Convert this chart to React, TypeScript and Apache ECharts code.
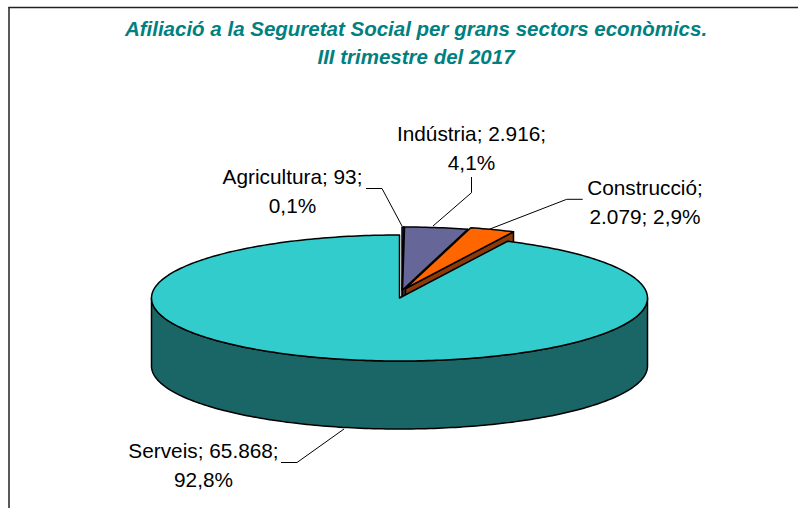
import React, { useEffect, useRef } from "react";
import * as echarts from "echarts";

const titleLines = [
  "Afiliació a la Seguretat Social per grans sectors econòmics.",
  "III trimestre del 2017",
];
const categories = ["Agricultura", "Indústria", "Construcció", "Serveis"];
const values = [93, 2916, 2079, 65868];
const labelLines = [
  ["Agricultura; 93;", "0,1%"],
  ["Indústria; 2.916;", "4,1%"],
  ["Construcció;", "2.079; 2,9%"],
  ["Serveis; 65.868;", "92,8%"],
];

// Layout
const RX = 248;
const RY = 63;
const DEPTH = 68;
const CENTERS = [
  [402, 290],
  [402.5, 290],
  [405.5, 288.5],
  [399.5, 298],
];
const TOP_COLORS = ["#33337f", "#666699", "#FF6600", "#33CCCC"];
const SIDE_COLORS = ["#1a1a40", "#33334d", "#8B3A08", "#1A6666"];
const LABEL_POS = [
  [292.5, 176],
  [471.5, 133],
  [645, 187],
  [203.5, 450],
];
const LEADERS = [
  [[366, 188.5], [382, 188.5], [402, 226]],
  [[471.5, 177], [471.5, 192.7], [433, 226]],
  [[582.7, 199.3], [566.7, 199.3], [490, 229]],
  [[281, 462.5], [297, 462.5], [344, 429]],
];

function pt(cx: number, cy: number, deg: number): number[] {
  const a = (deg * Math.PI) / 180;
  return [cx + RX * Math.sin(a), cy - RY * Math.cos(a)];
}
function arc(cx: number, cy: number, a0: number, a1: number): number[][] {
  const out: number[][] = [];
  const n = Math.max(2, Math.ceil(Math.abs(a1 - a0)));
  for (let i = 0; i <= n; i++) out.push(pt(cx, cy, a0 + ((a1 - a0) * i) / n));
  return out;
}

const total = values.reduce((s, v) => s + v, 0);
const border = { stroke: "#000", lineWidth: 1.5, lineJoin: "round" };

function renderSlice(params: any, api: any) {
  const i = params.dataIndex;
  const value = api.value(0);
  const before = values.slice(0, i).reduce((s, v) => s + v, 0);
  const a0 = (before / total) * 360;
  const a1 = a0 + (value / total) * 360;
  const [cx, cy] = CENTERS[i];
  const children: any[] = [];
  const top = [[cx, cy], ...arc(cx, cy, a0, a1)];
  if (i === 3) {
    // front wall, visible between 90° and 270°
    const upper = arc(cx, cy, Math.max(a0, 90), Math.min(a1, 270));
    const lower = upper.slice().reverse().map((p) => [p[0], p[1] + DEPTH]);
    children.push({
      type: "polygon",
      shape: { points: [...upper, ...lower] },
      style: { fill: SIDE_COLORS[i], ...border },
    });
  }
  children.push({
    type: "polygon",
    shape: { points: top },
    style: { fill: TOP_COLORS[i], ...border },
  });
  return { type: "group", children };
}

function renderSliceWall(params: any, api: any) {
  const i = params.dataIndex;
  const value = api.value(0);
  const before = values.slice(0, i).reduce((s, v) => s + v, 0);
  const a1 = ((before + value) / total) * 360;
  const [cx, cy] = CENTERS[i];
  const e = pt(cx, cy, a1);
  return {
    type: "polygon",
    shape: {
      points: [
        [cx, cy],
        e,
        [e[0], e[1] + DEPTH],
        [cx, cy + DEPTH],
      ],
    },
    style: { fill: SIDE_COLORS[i], ...border },
  };
}

const seriesData = categories.map((name, i) => ({ name, value: values[i] }));

export default function App() {
  const ref = useRef<HTMLDivElement>(null);
  useEffect(() => {
    document.body.style.margin = "0";
    const chart = echarts.init(ref.current!, null, { renderer: "svg" });
    chart.setOption({
      animation: false,
      backgroundColor: "#fff",
      series: [
        {
          type: "custom",
          coordinateSystem: "none",
          z: 1,
          data: seriesData.slice(0, 3),
          renderItem: renderSliceWall,
          silent: true,
        },
        {
          type: "custom",
          coordinateSystem: "none",
          z: 2,
          data: seriesData.slice(3),
          renderItem: (p: any, api: any) =>
            renderSlice({ ...p, dataIndex: 3 }, api),
          silent: true,
        },
        {
          type: "custom",
          coordinateSystem: "none",
          z: 3,
          data: seriesData.slice(0, 3),
          renderItem: renderSlice,
          silent: true,
        },
      ],
      graphic: [
        {
          type: "line",
          shape: { x1: 8.5, y1: 7.5, x2: 798, y2: 7.5 },
          style: { stroke: "#222", lineWidth: 1.5 },
        },
        {
          type: "line",
          shape: { x1: 9, y1: 7, x2: 9, y2: 508 },
          style: { stroke: "#222", lineWidth: 1.5 },
        },
        ...titleLines.map((t, i) => ({
          type: "text",
          x: 416,
          y: 28.5 + i * 27.5,
          style: {
            text: t,
            fill: "#008080",
            font: "italic bold 20.5px 'Liberation Sans', Arial, sans-serif",
            textAlign: "center",
            textVerticalAlign: "middle",
          },
        })),
        ...LEADERS.map((points) => ({
          type: "polyline",
          z: 5,
          shape: { points },
          style: { stroke: "#000", lineWidth: 1, fill: "none" },
        })),
        ...labelLines.flatMap((lines, i) =>
          lines.map((t, j) => ({
            type: "text",
            x: LABEL_POS[i][0],
            y: LABEL_POS[i][1] + j * 29,
            style: {
              text: t,
              fill: "#000",
              font: "20.8px 'Liberation Sans', Arial, sans-serif",
              textAlign: "center",
              textVerticalAlign: "middle",
            },
          }))
        ),
      ],
    });
    return () => chart.dispose();
  }, []);
  return <div ref={ref} style={{ width: 798, height: 508 }} />;
}
